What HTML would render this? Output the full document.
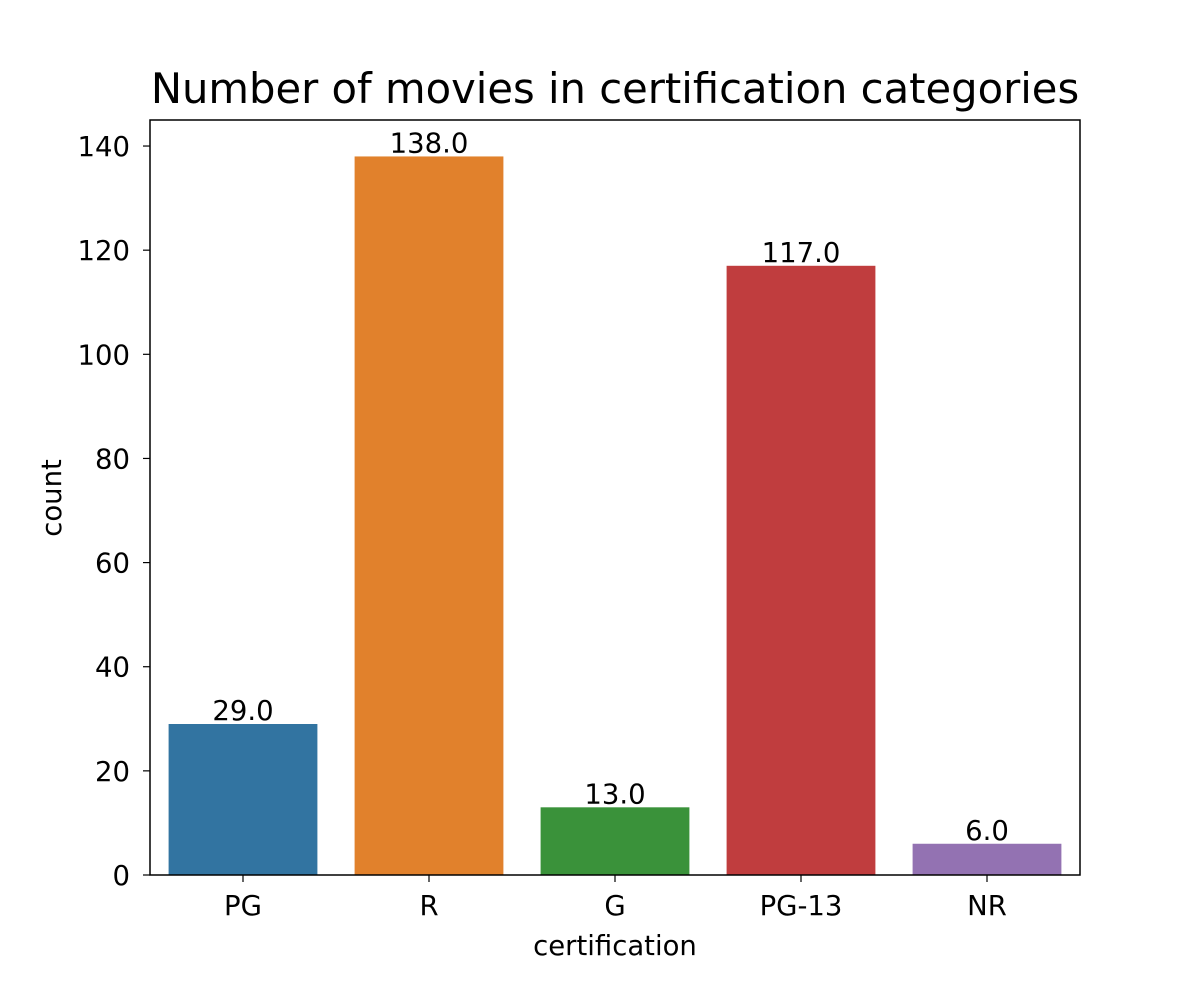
<!DOCTYPE html>
<html><head><meta charset="utf-8"><style>
html,body{margin:0;padding:0;background:#fff;width:1200px;height:1000px;overflow:hidden}
text{font-family:"DejaVu Sans","Liberation Sans",sans-serif;fill:#000}
</style></head><body>
<svg id="chart" width="1200" height="1000" xmlns="http://www.w3.org/2000/svg">
<text x="615" y="103" font-size="41.7" text-anchor="middle">Number of movies in certification categories</text>
<g id="plot"></g>
<text x="615" y="955" font-size="27.5" text-anchor="middle">certification</text>
<text transform="translate(61,498) rotate(-90)" font-size="27.5" text-anchor="middle">count</text>
</svg>
<script>
const categories = ["PG","R","G","PG-13","NR"];
const counts = [29,138,13,117,6];
const colors = ["#3274a1","#e1812c","#3a923a","#c03d3e","#9372b2"];
const yTicks = [0,20,40,60,80,100,120,140];

const L=150,R=1080,T=120,B=875,yMax=145;
const ns="http://www.w3.org/2000/svg";
const g=document.getElementById('plot');
const y=v=>B-(v/yMax)*(B-T);
const step=(R-L)/categories.length;
const x=i=>L+step*(i+0.5);
function mk(tag,attrs,parent){const e=document.createElementNS(ns,tag);for(const k in attrs)e.setAttribute(k,attrs[k]);(parent||g).appendChild(e);return e;}
categories.forEach((c,i)=>{
  const w=step*0.8;
  const r=mk('rect',{x:x(i)-w/2,y:y(counts[i]),width:w,height:B-y(counts[i]),fill:colors[i]});
  
  
  const t=mk('text',{x:x(i),y:y(counts[i])-4,'font-size':27.5,'text-anchor':'middle'});
  t.textContent=counts[i].toFixed(1);
  
  
  mk('line',{x1:x(i),x2:x(i),y1:B,y2:B+7,stroke:'#000','stroke-width':1.2});
  const tl=mk('text',{x:x(i),y:B+40,'font-size':27.5,'text-anchor':'middle'});
  tl.textContent=c;
  
  
});
yTicks.forEach(v=>{
  mk('line',{x1:L-7,x2:L,y1:y(v),y2:y(v),stroke:'#000','stroke-width':1.2});
  const t=mk('text',{x:L-20,y:y(v)+10,'font-size':27.5,'text-anchor':'end'});
  t.textContent=v;
  
  
});
const f=mk('rect',{x:L,y:T,width:R-L,height:B-T,fill:'none',stroke:'#000','stroke-width':1.5});


</script>
</body></html>
